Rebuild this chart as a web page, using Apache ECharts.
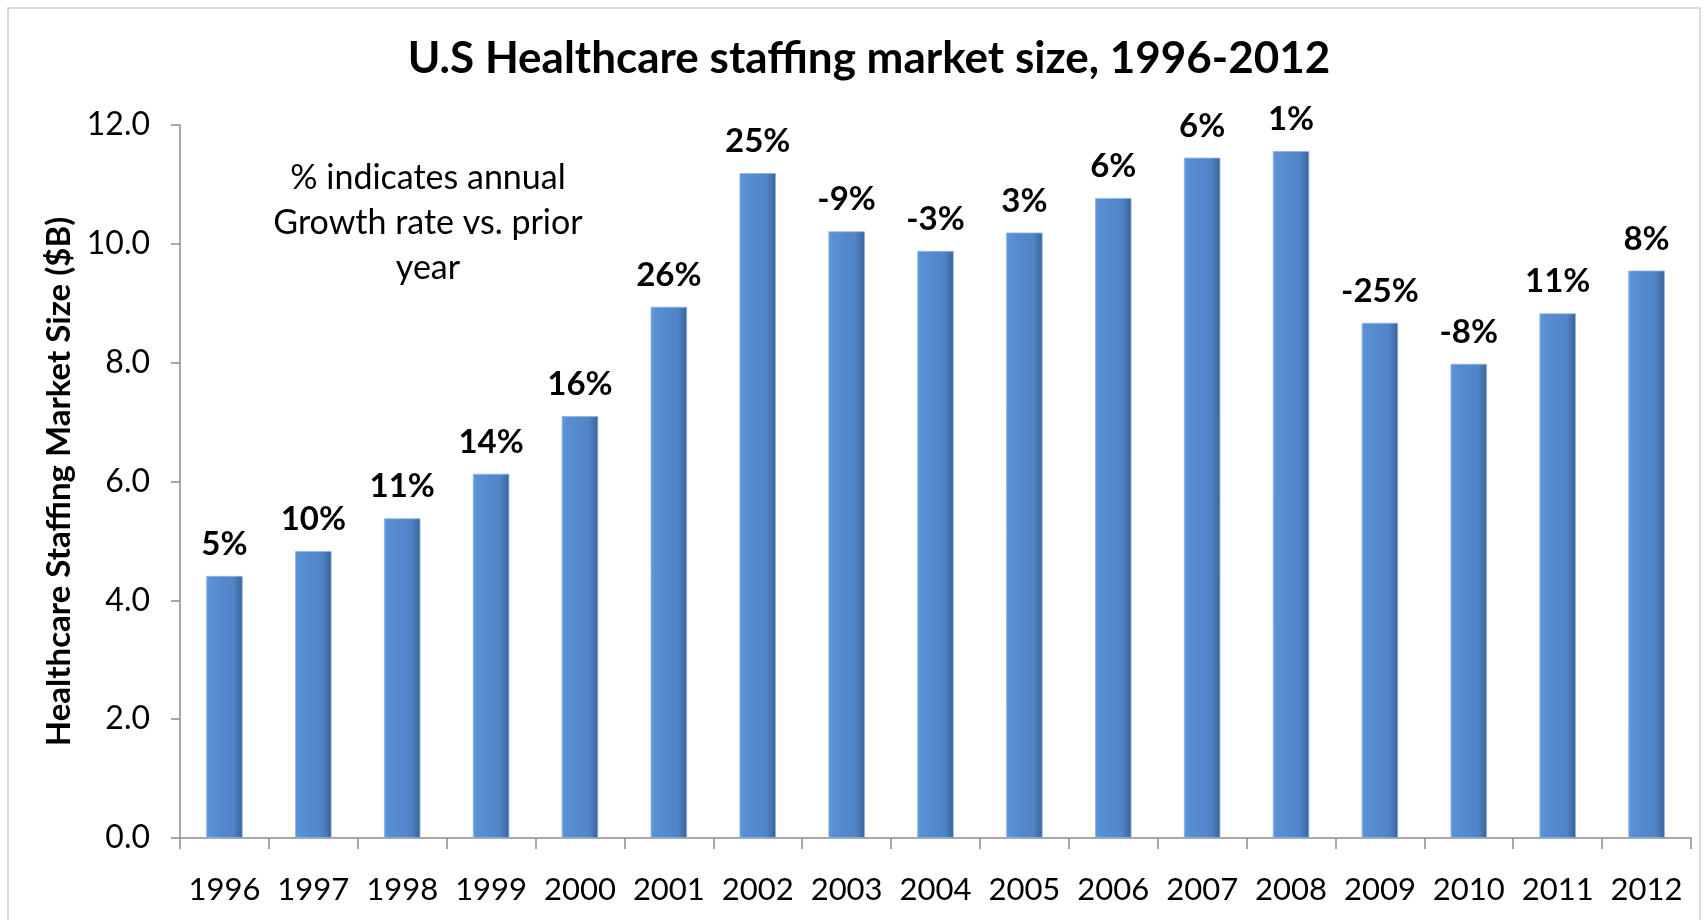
<!DOCTYPE html>
<html>
<head>
<meta charset="utf-8">
<script src="https://cdn.jsdelivr.net/npm/echarts@6/dist/echarts.min.js"></script>
<style>
  html, body { margin: 0; padding: 0; background: #fff; }
  #chart { width: 1705px; height: 920px; }
</style>
</head>
<body>
<div id="chart"></div>
<script>
var years = ['1996', '1997', '1998', '1999', '2000', '2001', '2002', '2003', '2004',
    '2005', '2006', '2007', '2008', '2009', '2010', '2011', '2012'];
// market size, $B
var marketSize = [4.41, 4.83, 5.38, 6.13, 7.10, 8.94, 11.19, 10.21, 9.88,
    10.19, 10.77, 11.45, 11.56, 8.67, 7.98, 8.83, 9.55];
// growth vs prior year, shown above each bar
var growth = ['5%', '10%', '11%', '14%', '16%', '26%', '25%', '-9%', '-3%',
    '3%', '6%', '6%', '1%', '-25%', '-8%', '11%', '8%'];
var noteLines = ['% indicates annual', 'Growth rate vs. prior', 'year'];

var font = "Lato, 'Open Sans', sans-serif";

var chart = echarts.init(document.getElementById('chart'));
chart.setOption({
    animation: false,
    title: {
        text: 'U.S Healthcare staffing market size, 1996-2012',
        left: 864,
        textAlign: 'center',
        top: 32,
        textStyle: {
            fontFamily: font,
            fontSize: 44,
            fontWeight: 'bold',
            color: '#000'
        }
    },
    grid: {
        left: 180,
        right: 14,
        top: 125,
        bottom: 82,
        containLabel: false
    },
    graphic: [
        {
            // chart frame
            type: 'rect',
            shape: { x: 8, y: 8, width: 1692, height: 930 },
            style: { fill: 'none', stroke: '#d0d0d0', lineWidth: 1.5 },
            silent: true
        },
        {
            type: 'text',
            x: 428,
            y: 156,
            style: {
                text: noteLines.join('\n'),
                align: 'center',
                fontFamily: font,
                fontSize: 34,
                lineHeight: 45,
                fill: '#000'
            }
        }
    ],
    xAxis: {
        type: 'category',
        data: years,
        axisLine: { show: true, lineStyle: { color: '#8c8c8c', width: 1.5 } },
        axisTick: { show: true, alignWithLabel: false, interval: 0, length: 11, lineStyle: { color: '#8c8c8c', width: 1.5 } },
        axisLabel: {
            interval: 0,
            margin: 36,
            fontFamily: font,
            fontSize: 31,
            color: '#000'
        },
        splitLine: { show: false }
    },
    yAxis: {
        type: 'value',
        min: 0,
        max: 12,
        interval: 2,
        name: 'Healthcare Staffing Market Size ($B)',
        nameLocation: 'middle',
        nameGap: 97,
        nameRotate: 90,
        nameTextStyle: {
            fontFamily: font,
            fontSize: 33,
            fontWeight: 'bold',
            color: '#000'
        },
        axisLine: { show: true, lineStyle: { color: '#8c8c8c', width: 1.5 } },
        axisTick: { show: true, inside: false, length: 9, lineStyle: { color: '#8c8c8c', width: 1.5 } },
        axisLabel: {
            margin: 30,
            fontFamily: font,
            fontSize: 32,
            color: '#000',
            formatter: function (v) { return v.toFixed(1) }
        },
        splitLine: { show: false }
    },
    series: [{
        type: 'bar',
        data: marketSize,
        barWidth: '41%',
        itemStyle: {
            color: new echarts.graphic.LinearGradient(0, 0, 1, 0, [
                { offset: 0, color: '#6199dc' },
                { offset: 0.12, color: '#5990d4' },
                { offset: 0.75, color: '#4f84c6' },
                { offset: 1, color: '#3a6397' }
            ]),
            borderColor: '#8fb4e3',
            borderWidth: 0.8
        },
        label: {
            show: true,
            position: 'top',
            distance: 15,
            fontFamily: font,
            fontSize: 33,
            fontWeight: 'bold',
            color: '#000',
            formatter: function (p) { return growth[p.dataIndex] }
        }
    }]
});
</script>
</body>
</html>
